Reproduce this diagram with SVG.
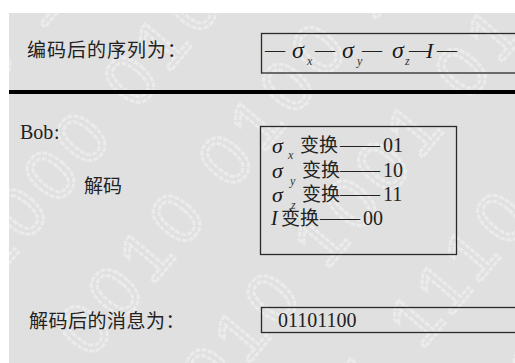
<svg xmlns="http://www.w3.org/2000/svg" width="515" height="363" viewBox="0 0 515 363">
<defs>
<style>
.cjk{font-family:"Noto Sans CJK SC","Noto Sans",sans-serif;font-size:19px;fill:#222}
.ser{font-family:"Liberation Serif","Times New Roman",serif;font-size:20px;fill:#222}
.sig{font-family:"Liberation Serif","Times New Roman",serif;font-style:italic;fill:#1a1a1a}
.sub{font-family:"Liberation Serif","Times New Roman",serif;font-style:italic;font-size:12px;fill:#333}
.box{fill:none;stroke:#2a2a2a;stroke-width:1.3}
.wm{font-family:"Liberation Sans",Arial,sans-serif;font-size:72px;fill:none;stroke:#ffffff;stroke-width:3;stroke-dasharray:5 1.5;opacity:0.38;letter-spacing:8px}
</style>
<clipPath id="bgclip"><rect x="9" y="13" width="506" height="350"/></clipPath>
</defs>
<rect x="0" y="0" width="515" height="363" fill="#ffffff"/>
<rect x="9" y="13" width="506" height="350" fill="#e0e0e0"/>
<g id="watermark" clip-path="url(#bgclip)">
<text class="wm" transform="translate(-100,200) rotate(-50)">0100 1101 0110 1001 0111 1010</text>
<text class="wm" transform="translate(-5,280) rotate(-50)">1000 0101 1011 0010 1101 0100</text>
<text class="wm" transform="translate(90,360) rotate(-50)">0010 0100 1010 1100 1001 0110</text>
<text class="wm" transform="translate(185,440) rotate(-50)">1010 1001 0111 1101 0100 1010</text>
<text class="wm" transform="translate(280,520) rotate(-50)">0001 1110 1010 0110 1101 0100</text>
<text class="wm" transform="translate(375,600) rotate(-50)">1101 0011 0110 1001 1010 0101</text>
<text class="wm" transform="translate(470,680) rotate(-50)">0110 1011 1001 0100 0111 1010</text>
</g>
<rect id="divider" x="9" y="90" width="506" height="4" fill="#000000"/>
<g id="encoded-label">
<text class="cjk" x="27" y="57" font-size="20" letter-spacing="1">编码后的序列为：</text>
</g>
<g id="encoded-seq">
<rect class="box" x="261.5" y="33.5" width="270" height="39.5"/>
<text class="ser" x="265" y="57" font-size="21">—</text>
<text class="sig" x="292" y="58" font-size="24">σ</text>
<text class="sub" x="307" y="65">x</text>
<text class="ser" x="315" y="57" font-size="21">—</text>
<text class="sig" x="342" y="58" font-size="24">σ</text>
<text class="sub" x="357" y="65">y</text>
<text class="ser" x="362" y="57" font-size="21">—</text>
<text class="sig" x="392" y="58" font-size="24">σ</text>
<text class="sub" x="405" y="65">z</text>
<text class="ser" x="409" y="57" font-size="21">—</text>
<text class="sig" x="426" y="58" font-size="22">I</text>
<text class="ser" x="437" y="57" font-size="21">—</text>
</g>
<g id="bob">
<text class="ser" x="20" y="139" font-size="19">Bob</text>
<text class="ser" x="54" y="139" font-size="19">:</text>
</g>
<g id="decode-label">
<text class="cjk" x="84" y="193" font-size="20">解码</text>
</g>
<g id="decode-table">
<rect class="box" x="260.5" y="126.5" width="196" height="128"/>
<text class="sig" x="272" y="153" font-size="22">σ</text>
<text class="sub" x="288" y="159">x</text>
<text class="cjk" x="300" y="152">变换</text>
<text class="ser" x="340" y="152" font-size="21.5">——</text>
<text class="ser" x="383" y="152">01</text>
<text class="sig" x="272" y="178" font-size="22">σ</text>
<text class="sub" x="290" y="185">y</text>
<text class="cjk" x="302" y="177">变换</text>
<text class="ser" x="340" y="177" font-size="21.5">——</text>
<text class="ser" x="383" y="177">10</text>
<text class="sig" x="272" y="202" font-size="22">σ</text>
<text class="sub" x="291" y="209">z</text>
<text class="cjk" x="302" y="201">变换</text>
<text class="ser" x="340" y="201" font-size="21.5">——</text>
<text class="ser" x="383" y="201">11</text>
<text class="sig" x="271" y="225" font-size="20">I</text>
<text class="cjk" x="281" y="225">变换</text>
<text class="ser" x="320" y="225" font-size="21.5">——</text>
<text class="ser" x="363" y="225">00</text>
</g>
<g id="message-label">
<text class="cjk" x="29" y="328" font-size="20" letter-spacing="0.5">解码后的消息为：</text>
</g>
<g id="message">
<rect class="box" x="261.5" y="307.5" width="270" height="25"/>
<text class="ser" x="278" y="327" font-size="21">01101100</text>
</g>
</svg>
